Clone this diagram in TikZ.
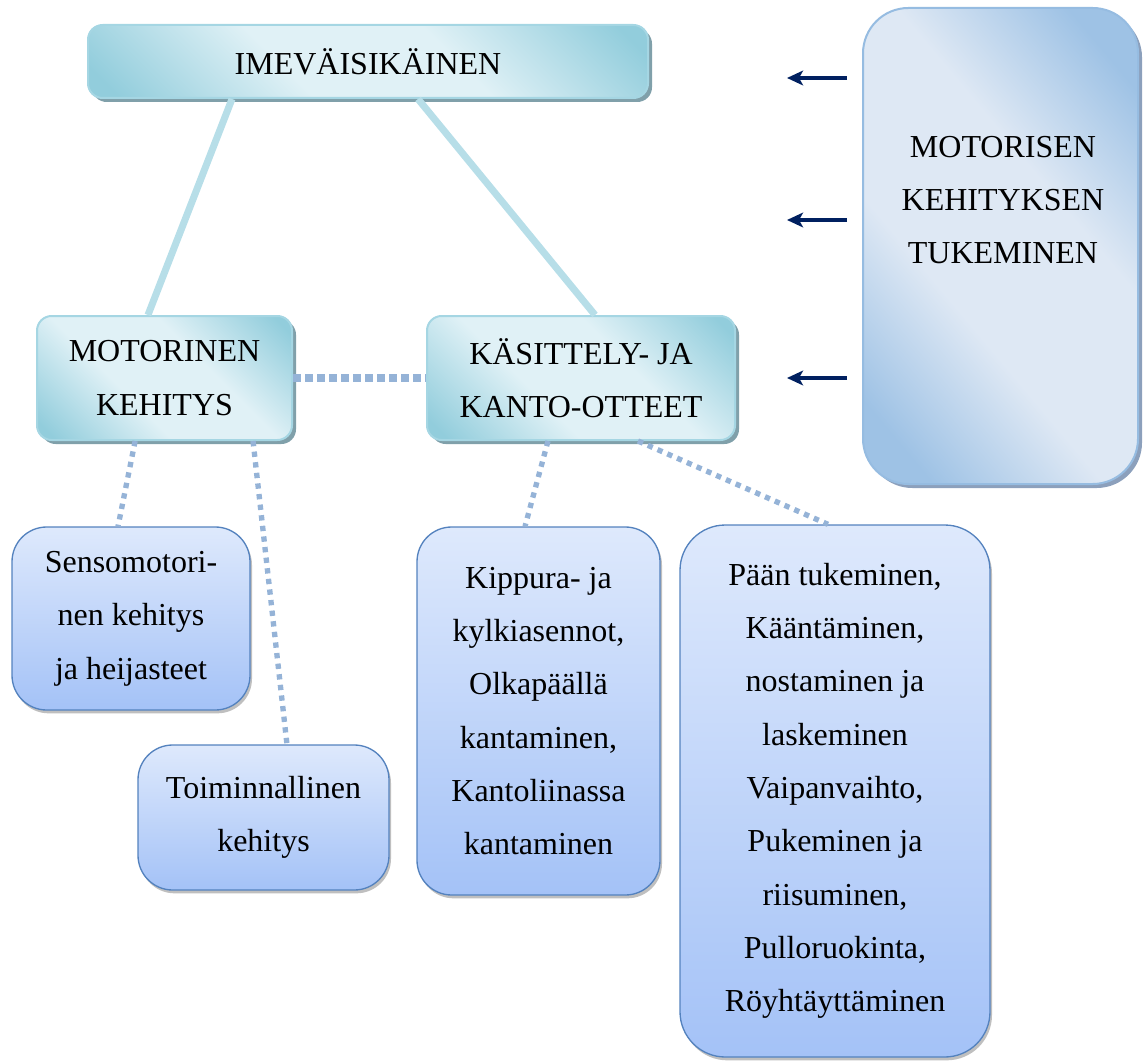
\documentclass[tikz,border=0pt]{standalone}
\usepackage{fontspec}
\setmainfont{Liberation Serif}
\usepackage{tikz}
\usetikzlibrary{calc, arrows.meta, shadows}
\tikzset{>=latex}
\definecolor{tealedge}{RGB}{165, 214, 227}
\definecolor{teallight}{RGB}{224, 241, 246}
\definecolor{tealdark}{RGB}{146, 205, 220}
\definecolor{tealshadow}{RGB}{128, 160, 170}
\definecolor{bluelight}{RGB}{222, 232, 244}
\definecolor{bluedark}{RGB}{158, 194, 229}
\definecolor{blueedge}{RGB}{150, 188, 225}
\definecolor{blueshadow}{RGB}{140, 160, 188}
\definecolor{boxtop}{RGB}{222, 233, 252}
\definecolor{boxbottom}{RGB}{164, 194, 247}
\definecolor{boxedge}{RGB}{84, 130, 190}
\definecolor{trunkline}{RGB}{183, 222, 232}
\definecolor{dotline}{RGB}{149, 179, 215}
\definecolor{navyarrow}{RGB}{0, 32, 96}

\pgfdeclarehorizontalshading{tealglow}{100bp}{color(0bp)=(tealdark); color(18bp)=(tealdark); color(40bp)=(teallight); color(60bp)=(teallight); color(82bp)=(tealdark); color(100bp)=(tealdark)}
\pgfdeclarehorizontalshading{blueglow}{100bp}{color(0bp)=(bluedark); color(22bp)=(bluedark); color(40bp)=(bluelight); color(60bp)=(bluelight); color(78bp)=(bluedark); color(100bp)=(bluedark)}

\tikzset{
  bigfont/.style = {font = \fontsize{24}{40}\selectfont, align = center, inner sep = 0pt},
  tealbox/.style = {bigfont, rounded corners = 11pt, draw = tealedge, line width = 1.5pt,
    shading = tealglow, shading angle = 45,
    drop shadow = {shadow xshift = 3pt, shadow yshift = -3pt, fill = tealshadow, opacity = 1}},
  supportbox/.style = {rounded corners = 34pt, draw = blueedge, line width = 1.5pt,
    shading = blueglow, shading angle = 40,
    drop shadow = {shadow xshift = 3pt, shadow yshift = -3pt, fill = blueshadow, opacity = 1}},
  itembox/.style = {bigfont, rounded corners = 26pt, draw = boxedge, line width = 1pt,
    top color = boxtop, bottom color = boxbottom,
    drop shadow = {shadow xshift = 1.5pt, shadow yshift = -2.5pt, fill = black, opacity = 0.25}},
  trunk/.style = {trunkline, line width = 5.25pt},
  thickdots/.style = {dotline, line width = 6pt, dash pattern = on 6pt off 3pt},
  thindots/.style = {dotline, line width = 4pt, dash pattern = on 4pt off 4pt},
  supparrow/.style = {navyarrow, line width = 2.6pt, -{Stealth[length = 12pt, width = 11pt, inset = 3pt]}}
}

\begin{document}
\begin{tikzpicture}[x = 0.75pt, y = -0.75pt]
\useasboundingbox (0,0) rectangle (1144,1062);

% upper level
\node[tealbox, minimum width = 420pt, minimum height = 54.75pt] (infant) at (368, 61.5) {IMEVÄISIKÄINEN};
\node[tealbox, minimum width = 191.25pt, minimum height = 93pt] (motor) at (164.5, 378) {MOTORINEN\\KEHITYS};
\node[tealbox, minimum width = 231pt, minimum height = 93pt] (handling) at (581, 378) {KÄSITTELY- JA\\KANTO-OTTEET};

\node[supportbox, minimum width = 206.25pt, minimum height = 357pt] (support) at (1000.5, 246) {};
\node[bigfont] (supporttext) at (1003, 200) {MOTORISEN\\KEHITYKSEN\\TUKEMINEN};

% lower level
\node[itembox, minimum width = 178.5pt, minimum height = 137.25pt] (senso) at (131, 618.5) {Sensomotori-\\nen kehitys\\ja heijasteet};
\node[itembox, minimum width = 188.25pt, minimum height = 108.75pt] (func) at (263.5, 817.5) {Toiminnallinen\\kehitys};
\node[itembox, minimum width = 182.25pt, minimum height = 276pt] (kipp) at (538.5, 711) {Kippura- ja\\kylkiasennot,\\Olkapäällä\\kantaminen,\\Kantoliinassa\\kantaminen};
\node[itembox, rounded corners = 34pt, minimum width = 232.5pt, minimum height = 399pt] (head) at (835, 791) {Pään tukeminen,\\Kääntäminen,\\nostaminen ja\\laskeminen\\Vaipanvaihto,\\Pukeminen ja\\riisuminen,\\Pulloruokinta,\\Röyhtäyttäminen};

% connectors
\draw[trunk] ([xshift = -102pt]infant.south) -- ([xshift = -12.4pt]motor.north);
\draw[trunk] ([xshift = 37.5pt]infant.south) -- ([xshift = 10.5pt]handling.north);
\draw[thickdots] (motor.east) -- (handling.west);
\draw[thindots] ([xshift = -22pt]motor.south) -- ([xshift = -9.75pt]senso.north);
\draw[thindots] ([xshift = 66.4pt]motor.south) -- ([xshift = 17.6pt]func.north);
\draw[thindots] ([xshift = -24.75pt]handling.south) -- ([xshift = -10.1pt]kipp.north);
\draw[thindots] ([xshift = 42.75pt]handling.south) -- ([xshift = -5.25pt]head.north);

% arrows
\coordinate (tip1) at (787, 78);
\coordinate (tip2) at (787, 220);
\coordinate (tip3) at (787, 378);
\foreach \t in {tip1, tip2, tip3}
  \draw[supparrow, shorten <= 11.25pt] (support.west |- \t) -- (\t);

\end{tikzpicture}
\end{document}
